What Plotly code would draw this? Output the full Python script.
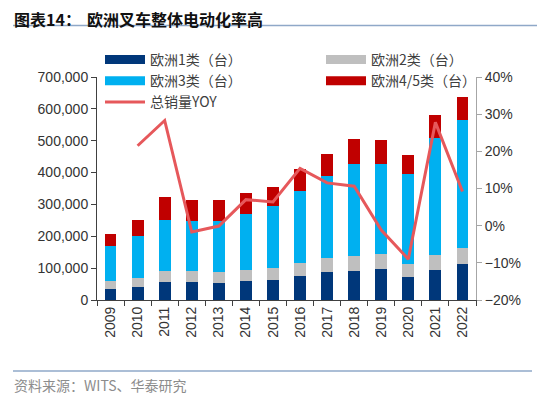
import plotly.graph_objects as go

years = ["2009", "2010", "2011", "2012", "2013", "2014", "2015", "2016",
         "2017", "2018", "2019", "2020", "2021", "2022"]
class1 = [35000, 42000, 57000, 55000, 53000, 61000, 64000, 75000, 87000, 92000, 96000, 73000, 95000, 112000]
class2 = [25000, 28000, 34000, 36000, 34000, 33000, 37000, 41000, 45000, 47000, 47000, 41000, 46000, 51000]
class3 = [110000, 132000, 161000, 157000, 161000, 176000, 193000, 227000, 256000, 289000, 283000, 281000, 369000, 402000]
class45 = [36000, 49000, 70000, 66000, 66000, 66000, 62000, 68000, 70000, 78000, 75000, 60000, 72000, 71000]
yoy_years = years[1:]
yoy = [0.215, 0.283, -0.017, -0.001, 0.070, 0.064, 0.154, 0.115, 0.106, -0.012, -0.090, 0.278, 0.092]

names = ["欧洲1类（台）", "欧洲2类（台）", "欧洲3类（台）", "欧洲4/5类（台）"]
colors = ["#00377A", "#BFBFBF", "#00B0F0", "#C00000"]
line_color = "#E6585B"
series = [class1, class2, class3, class45]

# page body has an 8px margin: lay out in window pixels, then offset
OFF = 8
W, H = 550 - OFF, 398 - OFF
L, R, T, B = 97 - OFF, 476 - OFF, 77 - OFF, 300 - OFF

def px_x(p):
    return (p - OFF - L) / (R - L)

def px_y(p):
    return (B - (p - OFF)) / (B - T)

FONT = "Liberation Sans, Arial, Noto Sans CJK SC, sans-serif"
CJK = "Noto Sans CJK SC, Liberation Sans, sans-serif"

fig = go.Figure()
for nm, col, vals in zip(names, colors, series):
    fig.add_trace(go.Bar(x=years, y=vals, name=nm, marker=dict(color=col, line=dict(width=0)),
                         showlegend=False))

# legend entries (long swatches like the original)
for i in [0, 2]:
    fig.add_trace(go.Scatter(x=[None], y=[None], mode="lines", name=names[i],
                             line=dict(color=colors[i], width=9), legend="legend"))
fig.add_trace(go.Scatter(x=yoy_years, y=yoy, mode="lines", name="总销量YOY", yaxis="y2",
                         line=dict(color=line_color, width=3), legend="legend"))
for i in [1, 3]:
    fig.add_trace(go.Scatter(x=[None], y=[None], mode="lines", name=names[i],
                             line=dict(color=colors[i], width=9), legend="legend2"))

leg_common = dict(orientation="v", bgcolor="rgba(0,0,0,0)", font=dict(family=CJK, size=14, color="#404040"),
                  xanchor="left", yanchor="top", tracegroupgap=0, itemwidth=40, traceorder="normal")

fig.update_layout(
    width=W, height=H,
    margin=dict(l=L, r=W - R, t=T, b=H - B),
    plot_bgcolor="white", paper_bgcolor="white",
    barmode="stack", bargap=0.56,
    font=dict(family=FONT, size=14, color="#333333"),
    xaxis=dict(type="category", tickson="boundaries", ticks="outside", ticklen=5,
               tickcolor="#404040", showline=True, linecolor="#404040", linewidth=1,
               tickangle=-90, tickfont=dict(size=14, color="#333333"), showgrid=False),
    yaxis=dict(range=[0, 700000], dtick=100000, tickformat=",", ticks="outside", ticklen=5,
               tickcolor="#404040", showline=True, linecolor="#404040", linewidth=1,
               showgrid=False, zeroline=False, tickfont=dict(size=14, color="#333333")),
    yaxis2=dict(range=[-0.2, 0.4], dtick=0.1, tickformat=".0%", overlaying="y", side="right",
                ticks="outside", ticklen=5, tickcolor="#A6A6A6", showline=True, linecolor="#A6A6A6",
                linewidth=1, showgrid=False, zeroline=False, tickfont=dict(size=14, color="#333333")),
    legend=dict(x=px_x(100), y=px_y(44), **leg_common),
    legend2=dict(x=px_x(321), y=px_y(44), **leg_common),
)

# title, separator lines, source
fig.add_annotation(text="<b>图表14：</b>", xref="paper", yref="paper",
                   x=px_x(13), y=px_y(18.5), xanchor="left", yanchor="middle", showarrow=False,
                   borderpad=0, font=dict(family=CJK, size=16, color="#111111"))
fig.add_annotation(text="<b>欧洲叉车整体电动化率高</b>", xref="paper", yref="paper",
                   x=px_x(86), y=px_y(18.5), xanchor="left", yanchor="middle", showarrow=False,
                   borderpad=0, font=dict(family=CJK, size=16, color="#111111"))
fig.add_shape(type="line", xref="paper", yref="paper", x0=px_x(13), x1=px_x(537),
              y0=px_y(25.5), y1=px_y(25.5), line=dict(color="#8FA8C8", width=1.5))
fig.add_shape(type="line", xref="paper", yref="paper", x0=px_x(13), x1=px_x(532),
              y0=px_y(371), y1=px_y(371), line=dict(color="#8FA8C8", width=1.5))
fig.add_annotation(text="资料来源：WITS、华泰研究", xref="paper", yref="paper",
                   x=px_x(12), y=px_y(385), xanchor="left", yanchor="middle", showarrow=False,
                   font=dict(family=CJK, size=14, color="#8C8C8C"))

fig.write_html("out.html")
